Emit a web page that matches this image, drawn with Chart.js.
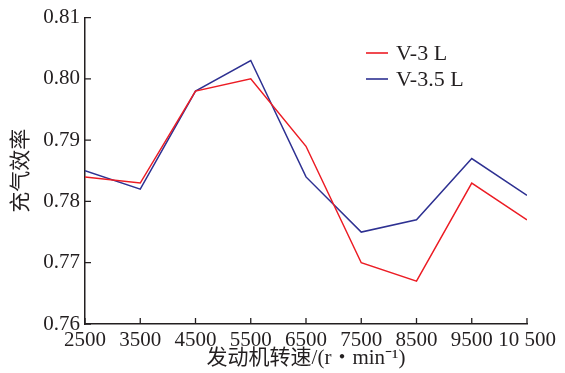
<!DOCTYPE html>
<html>
<head>
<meta charset="utf-8">
<script src="https://cdn.jsdelivr.net/npm/chart.js@4"></script>
<style>
  html, body { margin: 0; padding: 0; background: #fff; }
  #wrap { width: 565px; height: 373px; }
</style>
</head>
<body>
<div id="wrap"><canvas id="chart"></canvas></div>
<script>
const speeds = [2500, 3500, 4500, 5500, 6500, 7500, 8500, 9500, 10500];
const v3 = [0.784, 0.783, 0.798, 0.800, 0.789, 0.770, 0.767, 0.783, 0.777];
const v35 = [0.785, 0.782, 0.798, 0.803, 0.784, 0.775, 0.777, 0.787, 0.781];
const yTicks = [0.76, 0.77, 0.78, 0.79, 0.80, 0.81];

const SERIF = '"Liberation Serif", "Times New Roman", "Noto Sans CJK SC", serif';
const INK = "#231f20";

// tick marks point into the plot, so they are drawn by hand
const innerTicks = {
  id: "innerTicks",
  afterDraw(chart) {
    const { ctx, chartArea: a, scales: { x, y } } = chart;
    ctx.save();
    ctx.strokeStyle = INK;
    ctx.lineWidth = 1.3;
    ctx.beginPath();
    speeds.forEach((s) => {
      const px = x.getPixelForValue(s);
      ctx.moveTo(px, a.bottom);
      ctx.lineTo(px, a.bottom - 6);
    });
    yTicks.forEach((t) => {
      const py = y.getPixelForValue(t);
      ctx.moveTo(a.left, py);
      ctx.lineTo(a.left + 6, py);
    });
    ctx.stroke();
    ctx.restore();
  },
};

const sideLegend = {
  id: "sideLegend",
  afterDraw(chart) {
    const { ctx } = chart;
    ctx.save();
    ctx.font = "22px " + SERIF;
    ctx.textBaseline = "middle";
    chart.data.datasets.forEach((ds, i) => {
      const yy = 53 + i * 26;
      ctx.strokeStyle = ds.borderColor;
      ctx.lineWidth = 1.6;
      ctx.beginPath();
      ctx.moveTo(366, yy);
      ctx.lineTo(388, yy);
      ctx.stroke();
      ctx.fillStyle = INK;
      ctx.fillText(ds.label, 396, yy + 1);
    });
    ctx.restore();
  },
};

new Chart(document.getElementById("chart"), {
  type: "line",
  data: {
    datasets: [
      {
        label: "V-3 L",
        data: speeds.map((s, i) => ({ x: s, y: v3[i] })),
        borderColor: "#ec1c24",
        borderWidth: 1.5,
        pointRadius: 0,
        tension: 0,
        fill: false,
      },
      {
        label: "V-3.5 L",
        data: speeds.map((s, i) => ({ x: s, y: v35[i] })),
        borderColor: "#2e3192",
        borderWidth: 1.5,
        pointRadius: 0,
        tension: 0,
        fill: false,
      },
    ],
  },
  options: {
    responsive: true,
    maintainAspectRatio: false,
    animation: false,
    layout: { padding: { left: 0, top: 16, right: 38, bottom: 0 } },
    scales: {
      x: {
        type: "linear",
        min: 2500,
        max: 10500,
        afterBuildTicks: (s) => { s.ticks = speeds.map((v) => ({ value: v })); },
        afterFit: (s) => { s.height = 49; },
        grid: { display: false, drawTicks: false },
        border: { display: true, color: INK, width: 1.5 },
        ticks: {
          color: INK,
          padding: 4,
          maxRotation: 0,
          autoSkip: false,
          font: { family: SERIF, size: 21 },
          callback: (v) => (v >= 10000 ? "10 " + String(v).slice(2) : String(v)),
        },
        title: {
          display: true,
          text: "发动机转速/(r・min⁻¹)",
          color: INK,
          padding: { top: 0, bottom: 2 },
          font: { family: SERIF, size: 21 },
        },
      },
      y: {
        min: 0.76,
        max: 0.81,
        afterBuildTicks: (s) => { s.ticks = yTicks.map((v) => ({ value: v })); },
        afterFit: (s) => { s.width = 85; },
        grid: { display: false, drawTicks: false },
        border: { display: true, color: INK, width: 1.5 },
        ticks: {
          color: INK,
          padding: 5,
          font: { family: SERIF, size: 21 },
          callback: (v) => v.toFixed(2),
        },
        title: {
          display: true,
          text: "充气效率",
          color: INK,
          padding: { top: 9, bottom: 0 },
          font: { family: SERIF, size: 21 },
        },
      },
    },
    plugins: {
      legend: { display: false },
      tooltip: { enabled: false },
    },
  },
  plugins: [innerTicks, sideLegend],
});
</script>
</body>
</html>
